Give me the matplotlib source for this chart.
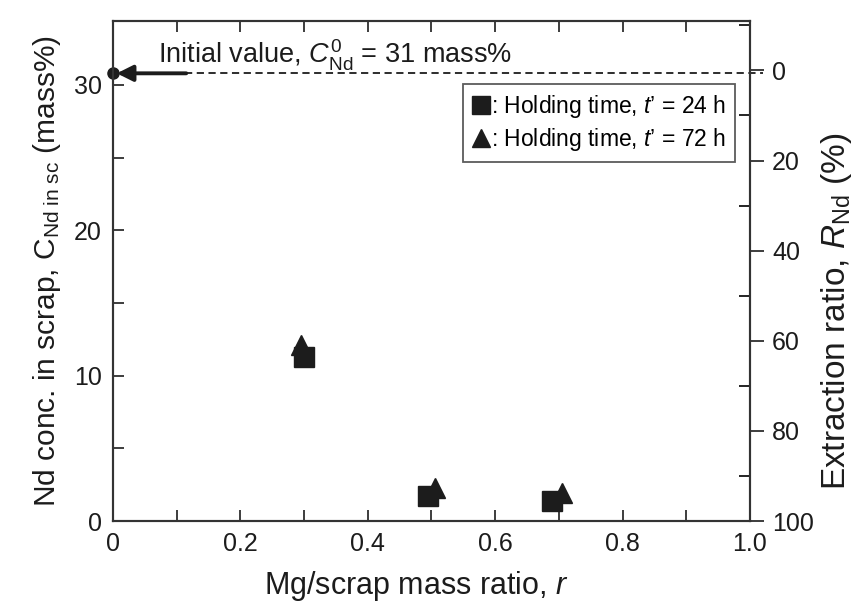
import matplotlib
matplotlib.use("Agg")
from matplotlib import pyplot as plt
from matplotlib.ticker import MultipleLocator, FixedLocator

plt.rcParams['font.family'] = ['Liberation Sans', 'DejaVu Sans']
plt.rcParams['mathtext.fontset'] = 'custom'
plt.rcParams['mathtext.rm'] = 'Liberation Sans'
plt.rcParams['mathtext.it'] = 'Liberation Sans:italic'

# data
c0 = 31.0
r_24h = [0.30, 0.495, 0.69]
c_24h = [11.3, 1.7, 1.4]
r_72h = [0.295, 0.505, 0.705]
c_72h = [12.1, 2.3, 1.9]

x_ticks = [0, 0.2, 0.4, 0.6, 0.8, 1.0]
x_labels = ['0', '0.2', '0.4', '0.6', '0.8', '1.0']
left_ticks = [0, 10, 20, 30]
right_ticks = [0, 20, 40, 60, 80, 100]

ink = '#1c1c1c'
fig = plt.figure(figsize=(8.6, 6.05), dpi=100)
ax = fig.add_axes([0.1314, 0.1388, 0.7406, 0.8265])

ax.plot(r_24h, c_24h, 's', color=ink, ms=14, zorder=3,
        label=': Holding time, $t$\u2019 = 24 h')
ax.plot(r_72h, c_72h, '^', color=ink, ms=14, zorder=2,
        label=': Holding time, $t$\u2019 = 72 h')

# initial value marker, arrow and dashed line
c_line = c0 - 0.2
ax.plot([0], [c_line], 'o', color=ink, ms=8, clip_on=False, zorder=5)
ax.plot([0.113, 1.02], [c_line, c_line], color=ink, lw=1.3,
        clip_on=False, dashes=(4, 2.5))
ax.annotate('', xy=(0.006, c_line), xytext=(0.115, c_line),
            arrowprops=dict(arrowstyle='-|>', color=ink, lw=2.8,
                            mutation_scale=24, shrinkA=0, shrinkB=0))
ax.text(0.071, c0 + 0.45, 'Initial value, $C^{\\rm 0}_{\\rm Nd}$ = 31 mass%',
        fontsize=19.5, color=ink, va='baseline')

ymax = 34.4
ax.set_xlim(0, 1.0)
ax.set_ylim(0, ymax)
ax.xaxis.set_major_locator(FixedLocator(x_ticks))
ax.set_xticklabels(x_labels)
ax.xaxis.set_minor_locator(MultipleLocator(0.1))
ax.yaxis.set_major_locator(FixedLocator(left_ticks))
ax.yaxis.set_minor_locator(MultipleLocator(5))
ax.tick_params(which='both', direction='in', top=True, right=False,
               colors=ink, labelsize=18, width=1.2, pad=8, length=8)
for s in ax.spines.values():
    s.set_linewidth(1.5)
    s.set_color('#333333')

ax.set_xlabel('Mg/scrap mass ratio, $r$', fontsize=22, color=ink, labelpad=6)
ax.xaxis.set_label_coords(0.477, -0.095)
ax.set_ylabel('Nd conc. in scrap, C$_{\\rm Nd\\ in\\ sc}$ (mass%)',
              fontsize=21.5, color=ink, labelpad=8)

ax2 = ax.twinx()
ax2.set_ylim(100, 100 * (1 - ymax / c0))
ax2.yaxis.set_major_locator(FixedLocator(right_ticks))
ax2.yaxis.set_minor_locator(MultipleLocator(10))
ax2.tick_params(which='major', direction='out', length=10, width=1.2,
                colors=ink, labelsize=18, pad=6)
ax2.tick_params(which='minor', direction='in', length=8, width=1.2)
ax2.set_ylabel('Extraction ratio, $R_{\\rm Nd}$ (%)', fontsize=24,
               color=ink, labelpad=8)
ax2.yaxis.set_label_coords(1.108, 0.42)
for s in ax2.spines.values():
    s.set_linewidth(1.5)
    s.set_color('#333333')

leg = ax.legend(loc='upper right', bbox_to_anchor=(0.977, 0.874),
                fontsize=16.5, frameon=True, fancybox=False, handlelength=0.7,
                handletextpad=0.1, borderpad=0.4, labelspacing=0.25,
                borderaxespad=0, markerscale=0.9)
leg.get_frame().set_edgecolor('#333333')
leg.get_frame().set_linewidth(1.3)

fig.savefig('out.png', dpi=100)
